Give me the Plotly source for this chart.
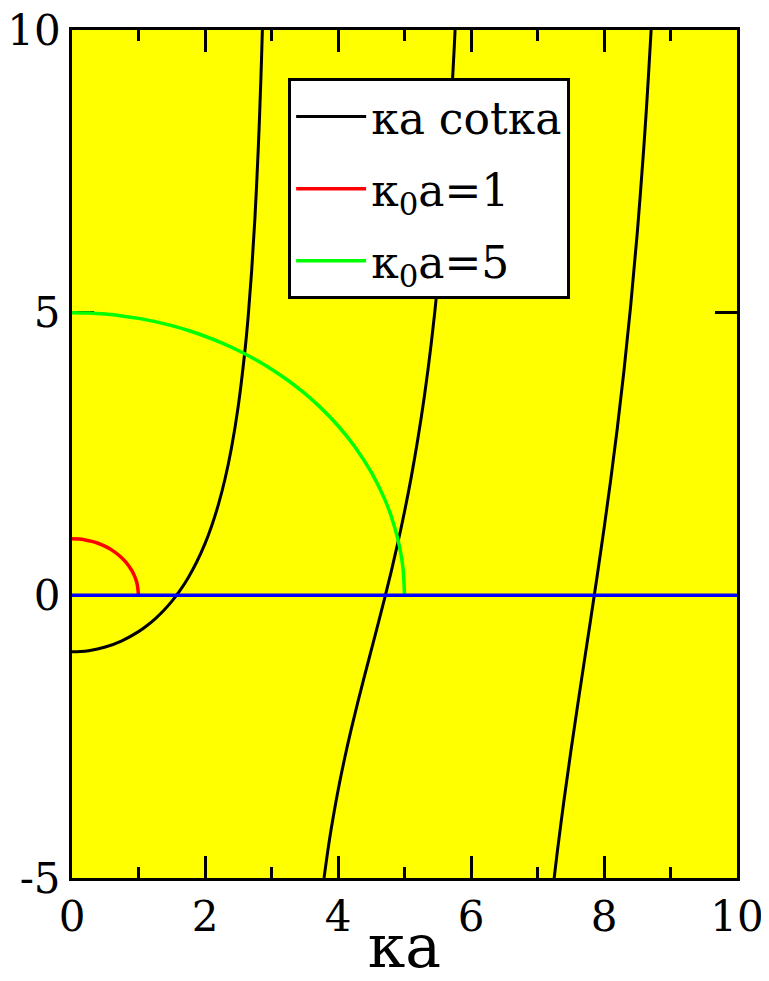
import plotly.graph_objects as go

# branch values of -ka cot(ka)
b1_x = [0, 0.125, 0.25, 0.5, 0.75, 1.0, 1.125, 1.25, 1.375, 1.5, 1.625, 1.75, 1.875, 2.0, 2.1, 2.2,
        2.3, 2.4, 2.5, 2.6, 2.65, 2.7, 2.75, 2.8, 2.825, 2.85, 2.87]
b1_y = [-1.0, -0.995, -0.979, -0.915, -0.805, -0.642, -0.537, -0.415, -0.273, -0.106, 0.088, 0.317,
        0.589, 0.915, 1.227, 1.601, 2.053, 2.620, 3.347, 4.322, 4.945, 5.712, 6.660, 7.872, 8.62, 9.49, 10.30]

b2_x = [3.79, 3.85, 3.9, 4.0, 4.1, 4.2, 4.3, 4.4, 4.5, 4.6, 4.7, 4.8, 4.9, 5.0, 5.1, 5.2, 5.3, 5.4,
        5.5, 5.6, 5.7, 5.75, 5.77]
b2_y = [-5.0, -4.494, -4.117, -3.455, -2.881, -2.363, -1.882, -1.422, -0.971, -0.519, -0.058, 0.421,
        0.930, 1.479, 2.082, 2.759, 3.529, 4.434, 5.524, 6.877, 8.635, 9.736, 10.236]

b3_x = [7.25, 7.3, 7.4, 7.5, 7.6, 7.7, 7.8, 7.9, 8.0, 8.1, 8.2, 8.3, 8.4, 8.5, 8.6, 8.65, 8.7, 8.72]
b3_y = [-5.006, -4.516, -3.611, -2.772, -1.973, -1.195, -0.422, 0.364, 1.176, 2.034, 2.955, 3.969,
        5.106, 6.408, 7.947, 8.835, 9.823, 10.246]

# quarter circles for k0a = 1 and k0a = 5
red_x = [0, 0.1, 0.2, 0.3, 0.4, 0.5, 0.6, 0.7, 0.8, 0.9, 0.95, 0.98, 1.0]
red_y = [1.0, 0.995, 0.980, 0.954, 0.917, 0.866, 0.8, 0.714, 0.6, 0.436, 0.312, 0.199, 0.0]

green_x = [0, 0.25, 0.5, 0.75, 1.0, 1.25, 1.5, 1.75, 2.0, 2.25, 2.5, 2.75, 3.0, 3.25, 3.5, 3.75,
           4.0, 4.25, 4.5, 4.7, 4.8, 4.9, 4.95, 4.98, 5.0]
green_y = [5.0, 4.994, 4.975, 4.943, 4.899, 4.841, 4.770, 4.684, 4.583, 4.465, 4.330, 4.176, 4.0,
           3.800, 3.571, 3.307, 3.0, 2.634, 2.179, 1.706, 1.4, 0.995, 0.705, 0.447, 0.0]

zero_x = [0, 10]
zero_y = [0, 0]

y_ticks = [-5, 0, 5, 10]
y_labels = ["-5", "0", "5", "10"]

FONT = "DejaVu Serif"

fig = go.Figure()
fig.add_trace(go.Scatter(x=b1_x, y=b1_y, mode="lines", line=dict(color="black", width=3, shape="spline"),
                         name="\u03baa cot\u03baa", legendgroup="k"))
fig.add_trace(go.Scatter(x=b2_x, y=b2_y, mode="lines", line=dict(color="black", width=3, shape="spline"),
                         showlegend=False, legendgroup="k"))
fig.add_trace(go.Scatter(x=b3_x, y=b3_y, mode="lines", line=dict(color="black", width=3, shape="spline"),
                         showlegend=False, legendgroup="k"))
fig.add_trace(go.Scatter(x=red_x, y=red_y, mode="lines", line=dict(color="#ff0000", width=3.5, shape="spline"),
                         name="\u03ba<sub>0</sub>a=1", legendgroup="r"))
fig.add_trace(go.Scatter(x=green_x, y=green_y, mode="lines", line=dict(color="#00ff00", width=3.5, shape="spline"),
                         name="\u03ba<sub>0</sub>a=5", legendgroup="g"))
fig.add_trace(go.Scatter(x=zero_x, y=zero_y, mode="lines", line=dict(color="#0000ff", width=3.5),
                         showlegend=False))

fig.update_layout(
    width=761, height=973,
    margin=dict(l=64, r=32, t=22, b=103),
    paper_bgcolor="white", plot_bgcolor="#ffff00",
    font=dict(family=FONT, size=42, color="black"),
    legend=dict(x=0.325, y=0.943, xanchor="left", yanchor="top",
                bgcolor="white", bordercolor="black", borderwidth=3,
                font=dict(family=FONT, size=44), tracegroupgap=12, itemwidth=70),
)
fig.update_xaxes(range=[0, 10], dtick=2, tick0=0, showgrid=False, zeroline=False, automargin=False,
                 showline=True, linecolor="black", linewidth=3, mirror="allticks", layer="below traces",
                 ticks="inside", ticklen=22, tickwidth=3, tickcolor="black", ticklabeloverflow="allow",
                 minor=dict(dtick=1, ticks="inside", ticklen=11, tickwidth=3, tickcolor="black"),
                 title=dict(text="\u03baa", font=dict(family=FONT, size=60)))
fig.update_yaxes(range=[-5, 10], tickvals=y_ticks, ticktext=y_labels, showgrid=False, zeroline=False,
                 automargin=False, showline=True, linecolor="black", linewidth=3, mirror="allticks",
                 layer="below traces", ticks="inside", ticklen=22, tickwidth=3, tickcolor="black",
                 ticklabeloverflow="allow")

fig.write_html("out.html")
